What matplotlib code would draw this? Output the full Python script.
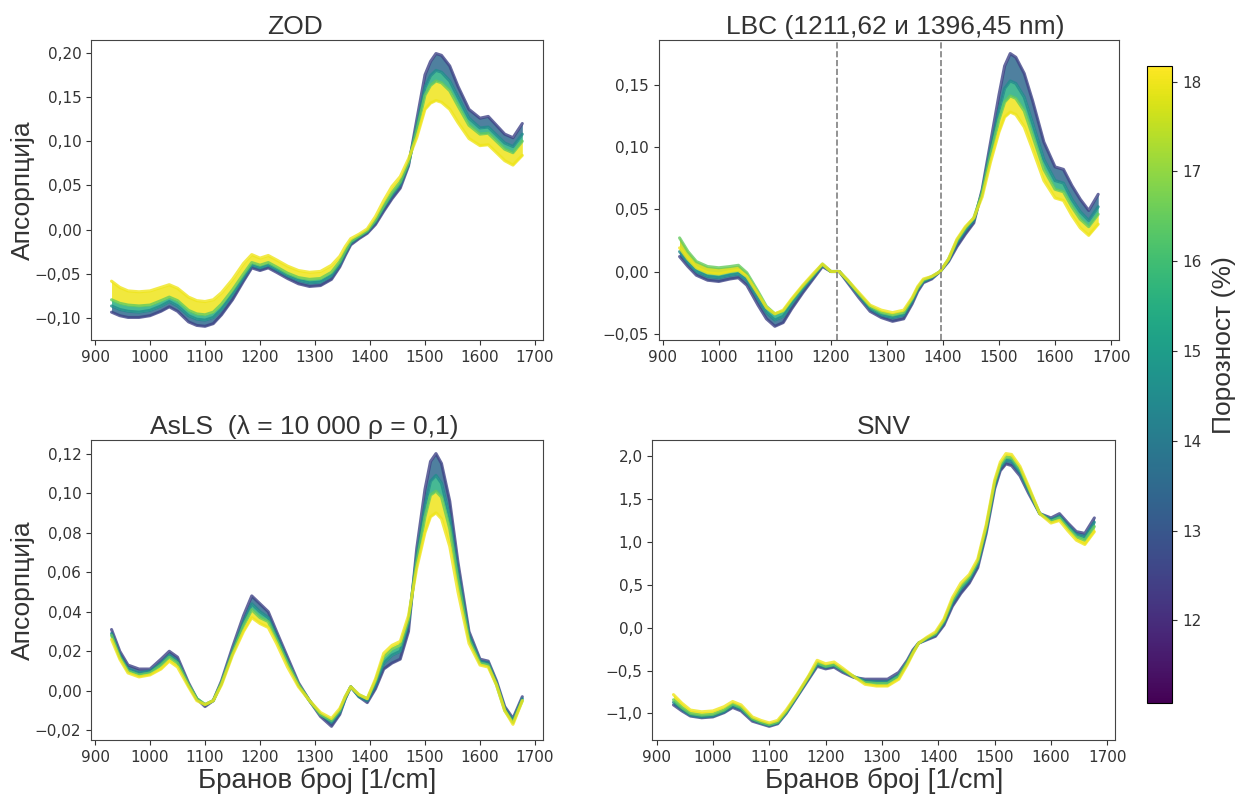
import matplotlib.pyplot as plt
import matplotlib as mpl
from matplotlib.ticker import FuncFormatter, MultipleLocator

# talasne duzine (zajednicke za sve panele)
wavenumber = [930, 945, 960, 980, 1000, 1020, 1035, 1050, 1070, 1085, 1100, 1115, 1130,
              1150, 1170, 1185, 1200, 1215, 1230, 1250, 1270, 1290, 1310, 1330, 1345,
              1355, 1365, 1380, 1395, 1410, 1425, 1440, 1455, 1470, 1485, 1500, 1510,
              1520, 1530, 1545, 1560, 1580, 1600, 1615, 1630, 1645, 1660, 1677]

# porozonost reprezentativnih krivih
porosity = [12.5, 14.5, 16.5, 18.0]

# ZOD
zod_p12 = [-0.093, -0.097, -0.099, -0.099, -0.097, -0.092, -0.087, -0.092, -0.104, -0.108, -0.109, -0.106, -0.096,
           -0.079, -0.058, -0.043, -0.046, -0.043, -0.048, -0.055, -0.061, -0.064, -0.063, -0.056, -0.042,
           -0.029, -0.017, -0.010, -0.004, 0.006, 0.021, 0.035, 0.047, 0.072, 0.124, 0.175, 0.190,
           0.199, 0.197, 0.185, 0.162, 0.136, 0.126, 0.128, 0.118, 0.108, 0.104, 0.120]
zod_p14 = [-0.086, -0.090, -0.092, -0.093, -0.091, -0.086, -0.081, -0.086, -0.097, -0.101, -0.102, -0.099, -0.090,
           -0.073, -0.054, -0.040, -0.043, -0.040, -0.045, -0.052, -0.057, -0.060, -0.059, -0.052, -0.039,
           -0.026, -0.015, -0.008, -0.002, 0.009, 0.025, 0.039, 0.051, 0.074, 0.117, 0.161, 0.174,
           0.180, 0.178, 0.168, 0.150, 0.126, 0.115, 0.116, 0.107, 0.098, 0.094, 0.108]
zod_p16 = [-0.079, -0.083, -0.085, -0.086, -0.085, -0.080, -0.076, -0.080, -0.091, -0.095, -0.096, -0.093, -0.084,
           -0.068, -0.050, -0.037, -0.040, -0.037, -0.042, -0.049, -0.054, -0.056, -0.055, -0.048, -0.036,
           -0.024, -0.013, -0.007, -0.001, 0.011, 0.027, 0.042, 0.054, 0.076, 0.112, 0.152, 0.163,
           0.168, 0.166, 0.157, 0.140, 0.118, 0.108, 0.109, 0.100, 0.091, 0.087, 0.100]
zod_p18 = [-0.058, -0.065, -0.069, -0.070, -0.069, -0.065, -0.062, -0.066, -0.076, -0.080, -0.081, -0.079, -0.071,
           -0.056, -0.038, -0.028, -0.032, -0.029, -0.034, -0.041, -0.046, -0.048, -0.047, -0.040, -0.030,
           -0.019, -0.010, -0.005, 0.001, 0.015, 0.033, 0.049, 0.060, 0.080, 0.104, 0.136, 0.143,
           0.146, 0.144, 0.136, 0.121, 0.103, 0.095, 0.096, 0.087, 0.078, 0.073, 0.084]

# LBC
lbc_p12 = [0.012, 0.004, -0.003, -0.007, -0.008, -0.006, -0.005, -0.011, -0.027, -0.038, -0.044, -0.041, -0.030,
           -0.017, -0.005, 0.004, 0.000, 0.000, -0.009, -0.021, -0.032, -0.037, -0.040, -0.038, -0.026,
           -0.016, -0.009, -0.006, 0.000, 0.008, 0.020, 0.030, 0.039, 0.066, 0.104, 0.142, 0.165,
           0.175, 0.172, 0.159, 0.137, 0.104, 0.084, 0.082, 0.069, 0.058, 0.049, 0.062]
lbc_p14 = [0.016, 0.007, 0.000, -0.004, -0.005, -0.003, -0.002, -0.007, -0.022, -0.033, -0.039, -0.036, -0.026,
           -0.014, -0.003, 0.005, 0.000, 0.000, -0.008, -0.019, -0.030, -0.035, -0.037, -0.035, -0.024,
           -0.014, -0.008, -0.005, 0.000, 0.009, 0.023, 0.033, 0.041, 0.064, 0.099, 0.130, 0.147,
           0.153, 0.151, 0.140, 0.119, 0.090, 0.073, 0.071, 0.058, 0.048, 0.041, 0.052]
lbc_p16 = [0.027, 0.016, 0.008, 0.004, 0.003, 0.004, 0.005, -0.001, -0.016, -0.028, -0.034, -0.032, -0.023,
           -0.012, -0.002, 0.006, 0.000, 0.000, -0.007, -0.018, -0.028, -0.033, -0.035, -0.033, -0.022,
           -0.013, -0.007, -0.004, 0.000, 0.010, 0.025, 0.035, 0.043, 0.063, 0.094, 0.122, 0.136,
           0.141, 0.139, 0.129, 0.109, 0.082, 0.066, 0.064, 0.052, 0.042, 0.036, 0.046]
lbc_p18 = [0.019, 0.010, 0.003, -0.001, -0.002, 0.000, 0.001, -0.004, -0.018, -0.029, -0.034, -0.031, -0.022,
           -0.011, -0.001, 0.006, 0.000, 0.000, -0.007, -0.017, -0.027, -0.031, -0.033, -0.031, -0.021,
           -0.012, -0.006, -0.004, 0.000, 0.010, 0.026, 0.036, 0.043, 0.060, 0.088, 0.112, 0.124,
           0.128, 0.126, 0.116, 0.098, 0.073, 0.059, 0.057, 0.045, 0.035, 0.029, 0.038]

# AsLS
asls_p12 = [0.031, 0.020, 0.013, 0.011, 0.011, 0.016, 0.020, 0.017, 0.004, -0.004, -0.008, -0.005, 0.005,
            0.022, 0.038, 0.048, 0.044, 0.040, 0.030, 0.017, 0.004, -0.005, -0.013, -0.018, -0.012,
            -0.004, 0.002, -0.003, -0.006, 0.001, 0.011, 0.014, 0.016, 0.030, 0.072, 0.102, 0.116,
            0.120, 0.115, 0.096, 0.065, 0.030, 0.016, 0.015, 0.005, -0.008, -0.014, -0.003]
asls_p14 = [0.029, 0.018, 0.011, 0.009, 0.010, 0.014, 0.018, 0.015, 0.003, -0.004, -0.007, -0.005, 0.004,
            0.020, 0.035, 0.044, 0.040, 0.037, 0.028, 0.015, 0.003, -0.005, -0.012, -0.016, -0.011,
            -0.004, 0.002, -0.003, -0.005, 0.003, 0.014, 0.018, 0.020, 0.034, 0.068, 0.094, 0.106,
            0.109, 0.105, 0.088, 0.060, 0.028, 0.015, 0.014, 0.004, -0.009, -0.015, -0.004]
asls_p16 = [0.028, 0.017, 0.010, 0.008, 0.009, 0.013, 0.017, 0.014, 0.003, -0.004, -0.007, -0.005, 0.004,
            0.019, 0.033, 0.041, 0.037, 0.035, 0.026, 0.014, 0.003, -0.005, -0.012, -0.015, -0.010,
            -0.003, 0.002, -0.002, -0.004, 0.005, 0.017, 0.021, 0.023, 0.036, 0.065, 0.088, 0.099,
            0.101, 0.098, 0.082, 0.056, 0.026, 0.014, 0.013, 0.003, -0.010, -0.016, -0.005]
asls_p18 = [0.026, 0.016, 0.009, 0.007, 0.008, 0.011, 0.015, 0.012, 0.002, -0.005, -0.007, -0.005, 0.003,
            0.018, 0.030, 0.037, 0.034, 0.032, 0.024, 0.012, 0.002, -0.005, -0.011, -0.014, -0.009,
            -0.003, 0.002, -0.002, -0.004, 0.006, 0.019, 0.023, 0.025, 0.038, 0.062, 0.080, 0.088,
            0.090, 0.087, 0.073, 0.050, 0.024, 0.013, 0.012, 0.003, -0.010, -0.017, -0.005]

# SNV
snv_p12 = [-0.90, -0.97, -1.03, -1.05, -1.04, -0.99, -0.93, -0.97, -1.09, -1.12, -1.15, -1.12, -1.00,
           -0.80, -0.60, -0.45, -0.48, -0.46, -0.52, -0.58, -0.60, -0.60, -0.60, -0.52, -0.38,
           -0.26, -0.18, -0.14, -0.10, 0.03, 0.25, 0.40, 0.52, 0.70, 1.10, 1.62, 1.83,
           1.91, 1.89, 1.77, 1.57, 1.33, 1.28, 1.33, 1.22, 1.12, 1.10, 1.28]
snv_p14 = [-0.87, -0.95, -1.02, -1.04, -1.03, -0.98, -0.91, -0.95, -1.07, -1.11, -1.14, -1.11, -0.99,
           -0.79, -0.58, -0.43, -0.46, -0.44, -0.50, -0.57, -0.62, -0.63, -0.63, -0.55, -0.40,
           -0.28, -0.18, -0.13, -0.08, 0.06, 0.29, 0.45, 0.56, 0.74, 1.14, 1.66, 1.87,
           1.95, 1.94, 1.81, 1.60, 1.33, 1.26, 1.30, 1.19, 1.09, 1.06, 1.23]
snv_p16 = [-0.84, -0.93, -1.00, -1.02, -1.01, -0.96, -0.89, -0.93, -1.06, -1.10, -1.13, -1.10, -0.98,
           -0.78, -0.57, -0.41, -0.45, -0.43, -0.49, -0.57, -0.64, -0.65, -0.65, -0.57, -0.41,
           -0.29, -0.18, -0.12, -0.07, 0.08, 0.32, 0.48, 0.59, 0.77, 1.17, 1.69, 1.90,
           1.99, 1.98, 1.85, 1.63, 1.33, 1.24, 1.28, 1.16, 1.06, 1.02, 1.18]
snv_p18 = [-0.78, -0.88, -0.96, -0.98, -0.97, -0.92, -0.86, -0.90, -1.04, -1.08, -1.11, -1.08, -0.96,
           -0.77, -0.56, -0.38, -0.42, -0.40, -0.47, -0.57, -0.66, -0.68, -0.68, -0.60, -0.43,
           -0.30, -0.18, -0.11, -0.05, 0.10, 0.35, 0.52, 0.62, 0.80, 1.20, 1.72, 1.93,
           2.03, 2.02, 1.88, 1.65, 1.33, 1.22, 1.25, 1.13, 1.02, 0.97, 1.12]

panels = [
    ('ZOD', [zod_p12, zod_p14, zod_p16, zod_p18], 0.05, 2),
    ('LBC (1211,62 и 1396,45 nm)', [lbc_p12, lbc_p14, lbc_p16, lbc_p18], 0.05, 2),
    ('AsLS  (λ = 10 000 ρ = 0,1)', [asls_p12, asls_p14, asls_p16, asls_p18], 0.02, 2),
    ('SNV', [snv_p12, snv_p14, snv_p16, snv_p18], 0.5, 1),
]
baseline_points = [1211.62, 1396.45]

plt.rcParams['font.family'] = ['Liberation Sans', 'DejaVu Sans']
plt.rcParams['text.color'] = '#333333'
plt.rcParams['axes.labelcolor'] = '#333333'
plt.rcParams['xtick.color'] = '#333333'
plt.rcParams['ytick.color'] = '#333333'
tick_font = 'DejaVu Sans'

cmap = plt.get_cmap('viridis')
norm = mpl.colors.Normalize(vmin=11.08, vmax=18.17)

fig = plt.figure(figsize=(12.38, 7.98), dpi=100)
positions = [
    [0.0735, 0.574, 0.365, 0.376],
    [0.532, 0.574, 0.372, 0.376],
    [0.0735, 0.0727, 0.365, 0.376],
    [0.527, 0.0727, 0.374, 0.376],
]
title_x = [0.452, 0.513, 0.472, 0.5]


def comma_fmt(decimals):
    def f(v, pos):
        s = f'{v:.{decimals}f}'.replace('.', ',')
        return s.replace('-', '\u2212')
    return f


for i, (title, curves, step, dec) in enumerate(panels):
    ax = fig.add_axes(positions[i])
    # popunjavanje izmedju krivih
    for j in range(len(curves) - 1):
        mid = (porosity[j] + porosity[j + 1]) / 2
        ax.fill_between(wavenumber, curves[j], curves[j + 1],
                        color=cmap(norm(porosity[j + 1] if j == 2 else mid)), alpha=0.85, lw=0)
    for j, curve in enumerate(curves):
        ax.plot(wavenumber, curve, color=cmap(norm(porosity[j])), lw=2.2, alpha=0.8,
                solid_capstyle='round', solid_joinstyle='round')
    if i == 1:
        for bp in baseline_points:
            ax.axvline(bp, color='gray', linestyle='--', linewidth=1.2)
    ax.set_title(title, fontsize=19, pad=4, x=title_x[i])
    ax.set_xticks(range(900, 1701, 100))
    ax.yaxis.set_major_locator(MultipleLocator(step))
    ax.yaxis.set_major_formatter(FuncFormatter(comma_fmt(dec)))
    ax.tick_params(labelsize=11)
    for lab in ax.get_xticklabels() + ax.get_yticklabels():
        lab.set_fontfamily(tick_font)
    for sp in ax.spines.values():
        sp.set_color('#444444')
    if i in (0, 2):
        ax.set_ylabel('Апсорпција', fontsize=19, labelpad=0)
    if i in (2, 3):
        ax.set_xlabel('Бранов број [1/cm]', fontsize=20, labelpad=2)

# skala boja
cax = fig.add_axes([0.9265, 0.119, 0.0205, 0.798])
sm = mpl.cm.ScalarMappable(norm=norm, cmap=cmap)
cb = fig.colorbar(sm, cax=cax)
cb.set_ticks([12, 13, 14, 15, 16, 17, 18])
cb.ax.tick_params(labelsize=11)
for lab in cb.ax.get_yticklabels():
    lab.set_fontfamily(tick_font)
cb.set_label('Порозност (%)', fontsize=19)
cb.ax.yaxis.set_label_coords(2.55, 0.562)

fig.savefig('out.png', dpi=100)
plt.close(fig)
